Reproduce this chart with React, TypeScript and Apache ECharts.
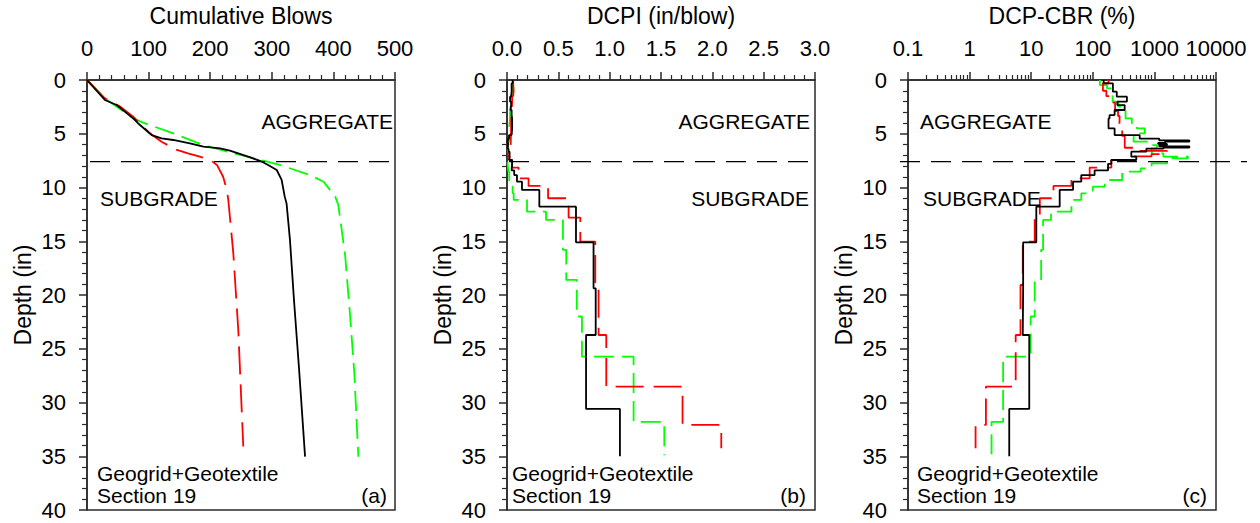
import React, { useEffect, useRef } from "react";
import * as echarts from "echarts";

const FONT = '"Liberation Sans", Arial, Helvetica, sans-serif';

// ---------- Panel (a): cumulative blows vs depth ----------
const blackBlows = [0, 29, 48, 75, 86, 105, 121, 140, 167, 189, 216, 232, 265, 284, 294, 308, 316, 321, 324, 329.5, 336, 344, 354];
const blackBlowsDepth = [0, 1.86, 2.33, 3.57, 4.19, 5.12, 5.43, 5.58, 5.89, 6.2, 6.36, 6.57, 7.19, 7.6, 7.9, 8.37, 9.3, 10.85, 11.5, 14.88, 20.47, 26.67, 35.04];
const redBlows = [0, 29, 54, 75, 102, 121, 146, 164, 183, 200, 211, 221, 227, 229.4, 237.5, 245.6, 253.7];
const redBlowsDepth = [0, 1.7, 2.48, 3.41, 4.96, 5.74, 6.51, 6.82, 7.13, 7.44, 7.9, 9.0, 10.23, 11.16, 16.1, 23.26, 34.1];
const greenBlows = [0, 29, 75, 91, 140, 189, 237.5, 286, 313, 362, 384, 403, 408, 419, 427, 434, 440.5];
const greenBlowsDepth = [0, 1.7, 3.57, 3.97, 4.96, 6.05, 6.82, 7.5, 7.9, 8.84, 9.46, 10.85, 11.63, 16.28, 21.86, 27.3, 35.04];

// ---------- Panels (b) and (c): layer boundaries (in) and layer values ----------
const blackBounds = [0, 0.31, 1.09, 1.55, 2.02, 2.33, 2.79, 3.26, 3.57, 4.5, 5.12, 5.46, 5.62, 5.72, 5.85, 5.95, 6.05, 6.18, 6.28, 6.39, 6.67, 7.13, 7.44, 7.8, 8.4, 8.84, 9.46, 10.23, 11.78, 15.1, 19.38, 23.72, 30.6, 35.0];
const blackDCPI = [0.055, 0.045, 0.04, 0.03, 0.04, 0.035, 0.045, 0.05, 0.05, 0.045, 0.02, 0.01, 0.004, 0.008, 0.012, 0.008, 0.01, 0.004, 0.008, 0.015, 0.025, 0.02, 0.05, 0.045, 0.07, 0.097, 0.146, 0.315, 0.672, 0.843, 0.864, 0.77, 1.1];
const blackCBR = [150, 212, 245, 358, 250, 329, 226, 187, 180, 226, 577, 1200, 3700, 1500, 1150, 1600, 1200, 3700, 1400, 740, 422, 508, 200, 177, 107, 65, 47.8, 29, 12.1, 7.4, 7.3, 9.3, 4.4];

const redBounds = [0, 0.3, 1.0, 1.5, 2.1, 2.9, 3.35, 3.8, 4.75, 5.2, 6.3, 6.6, 6.9, 7.1, 7.45, 8.15, 9.15, 9.85, 11.0, 12.8, 15.04, 19.07, 23.72, 28.53, 32.09, 34.26];
const redDCPI = [0.06, 0.065, 0.06, 0.05, 0.045, 0.042, 0.04, 0.04, 0.038, 0.035, 0.02, 0.008, 0.012, 0.025, 0.05, 0.113, 0.21, 0.4, 0.6, 0.714, 0.86, 0.892, 0.967, 1.71, 2.087];
const redCBR = [180, 146, 166, 212, 230, 257, 272, 265, 300, 330, 560, 1600, 900, 460, 200, 89, 45, 23, 13.8, 11.4, 7.3, 6.7, 5.6, 1.84, 1.25];

const greenBounds = [0, 0.47, 0.78, 1.5, 2.02, 2.48, 2.79, 3.57, 4.03, 4.5, 4.96, 5.27, 5.74, 6.05, 6.36, 6.82, 7.13, 7.29, 7.75, 8.22, 8.53, 9.3, 9.92, 10.54, 11.16, 12.25, 13.02, 15.8, 18.6, 22.0, 25.74, 31.8, 34.9];
const greenDCPI = [0.06, 0.05, 0.045, 0.04, 0.035, 0.03, 0.03, 0.025, 0.02, 0.015, 0.02, 0.02, 0.012, 0.008, 0.01, 0.006, 0.003, 0.006, 0.01, 0.015, 0.022, 0.025, 0.055, 0.065, 0.195, 0.38, 0.545, 0.577, 0.68, 0.73, 1.233, 1.532];
const greenCBR = [130, 170, 200, 210, 260, 300, 340, 430, 520, 700, 560, 460, 800, 1100, 900, 1400, 3500, 1600, 900, 600, 300, 157, 100, 65, 45, 21, 15.6, 14.5, 11.4, 9.8, 3.5, 2.27];

// ---------- Axes ----------
const SEPARATOR_DEPTH = 7.6;
const depthLabels = [0, 5, 10, 15, 20, 25, 30, 35, 40];
const blowsRange = [0, 500];
const dcpiRange = [0, 3];
const cbrRange = [0.1, 10000];
const cbrDecades = [0.1, 1, 10, 100, 1000];
const cbrMinorMultipliers = [2, 3, 4, 5, 6, 7, 8, 9];

const panelTexts = [
  { layer1: "AGGREGATE", layer2: "SUBGRADE", tag: "(a)" },
  { layer1: "AGGREGATE", layer2: "SUBGRADE", tag: "(b)" },
  { layer1: "AGGREGATE", layer2: "SUBGRADE", tag: "(c)" },
];
const sectionLine1 = "Geogrid+Geotextile";
const sectionLine2 = "Section 19";

const GRIDS = [
  { left: 87, top: 80, width: 308, height: 430 },
  { left: 507, top: 80, width: 308, height: 430 },
  { left: 908, top: 80, width: 308, height: 430 },
];

const pairs = (xs: number[], ys: number[]) => xs.map((x, i) => [x, ys[i]]);
const steps = (bounds: number[], vals: number[]) => {
  const pts: number[][] = [];
  vals.forEach((v, i) => {
    pts.push([v, bounds[i]]);
    pts.push([v, bounds[i + 1]]);
  });
  return pts;
};

const AX = "#2a2a2a";
const TICK_FONT = 22;
const NAME_FONT = 23;
const lineStyles = {
  black: { color: "#000000", width: 1.8, type: "solid" },
  red: { color: "#ff0000", width: 1.8, type: [28, 10] },
  green: { color: "#00ff00", width: 1.8, type: [20, 8] },
};

function yAxisFor(gridIndex: number) {
  return {
    type: "value",
    gridIndex,
    inverse: true,
    min: depthLabels[0],
    max: depthLabels[depthLabels.length - 1],
    interval: depthLabels[1] - depthLabels[0],
    name: "Depth (in)",
    nameLocation: "middle",
    nameGap: 53,
    nameTextStyle: { fontFamily: FONT, fontSize: NAME_FONT, color: "#000" },
    axisLine: { show: true, onZero: false, lineStyle: { color: AX, width: 1.5 } },
    axisTick: { show: true, length: 8, lineStyle: { color: AX, width: 1.5 } },
    minorTick: { show: true, splitNumber: 5, length: 5, lineStyle: { color: AX, width: 1.2 } },
    axisLabel: { fontFamily: FONT, fontSize: TICK_FONT, color: "#000", margin: 21 },
    splitLine: { show: false },
    minorSplitLine: { show: false },
  };
}

function xAxisBase(gridIndex: number, name: string) {
  return {
    gridIndex,
    position: "top",
    name,
    nameLocation: "middle",
    nameGap: 53,
    nameTextStyle: { fontFamily: FONT, fontSize: NAME_FONT, color: "#000" },
    axisLine: { show: true, onZero: false, lineStyle: { color: AX, width: 1.5 } },
    axisTick: { show: true, length: 8, lineStyle: { color: AX, width: 1.5 } },
    axisLabel: { fontFamily: FONT, fontSize: TICK_FONT, color: "#000", margin: 21 },
    splitLine: { show: false },
    minorSplitLine: { show: false },
  };
}

const fmtNum = (v: number) => String(Number(v.toPrecision(8)));

export default function App() {
  const ref = useRef<HTMLDivElement>(null);

  useEffect(() => {
    if (!ref.current) return;
    const chart = echarts.init(ref.current, null, { renderer: "svg" });

    const cbrMinor = cbrDecades.flatMap((d) => cbrMinorMultipliers.map((m) => Number((m * d).toPrecision(6))));

    const mk = (name: string, style: any, data: number[][], xi: number, yi: number) => ({
      type: "line",
      name,
      xAxisIndex: xi,
      yAxisIndex: yi,
      data,
      showSymbol: false,
      symbol: "none",
      smooth: false,
      lineStyle: style,
      itemStyle: { color: style.color },
      silent: true,
    });

    const option: any = {
      animation: false,
      backgroundColor: "#ffffff",
      grid: GRIDS.map((g) => ({
        ...g,
        show: true,
        borderColor: AX,
        borderWidth: 1.5,
        backgroundColor: "transparent",
        containLabel: false,
        outerBoundsMode: "none",
      })),
      xAxis: [
        {
          ...xAxisBase(0, "Cumulative Blows"),
          type: "value",
          min: blowsRange[0],
          max: blowsRange[1],
          interval: 100,
          minorTick: { show: true, splitNumber: 5, length: 5, lineStyle: { color: AX, width: 1.2 } },
        },
        {
          ...xAxisBase(1, "DCPI (in/blow)"),
          type: "value",
          min: dcpiRange[0],
          max: dcpiRange[1],
          interval: 0.5,
          minorTick: { show: true, splitNumber: 5, length: 5, lineStyle: { color: AX, width: 1.2 } },
          axisLabel: { fontFamily: FONT, fontSize: TICK_FONT, color: "#000", margin: 21, formatter: (v: number) => v.toFixed(1) },
        },
        {
          ...xAxisBase(2, "DCP-CBR (%)"),
          type: "log",
          logBase: 10,
          min: cbrRange[0],
          max: cbrRange[1],
          axisLabel: { fontFamily: FONT, fontSize: TICK_FONT, color: "#000", margin: 21, formatter: (v: number) => fmtNum(v) },
        },
        {
          type: "log",
          gridIndex: 2,
          position: "top",
          logBase: 10,
          min: cbrRange[0],
          max: cbrRange[1],
          axisLine: { show: false },
          axisLabel: { show: false },
          splitLine: { show: false },
          axisTick: { show: true, length: 5, customValues: cbrMinor, lineStyle: { color: AX, width: 1.2 } },
        },
      ],
      yAxis: [yAxisFor(0), yAxisFor(1), yAxisFor(2)],
      series: [
        mk("green", lineStyles.green, pairs(greenBlows, greenBlowsDepth), 0, 0),
        mk("red", lineStyles.red, pairs(redBlows, redBlowsDepth), 0, 0),
        mk("black", lineStyles.black, pairs(blackBlows, blackBlowsDepth), 0, 0),
        mk("green", lineStyles.green, steps(greenBounds, greenDCPI), 1, 1),
        mk("red", lineStyles.red, steps(redBounds, redDCPI), 1, 1),
        mk("black", lineStyles.black, steps(blackBounds, blackDCPI), 1, 1),
        mk("green", lineStyles.green, steps(greenBounds, greenCBR), 2, 2),
        mk("red", lineStyles.red, steps(redBounds, redCBR), 2, 2),
        mk("black", lineStyles.black, steps(blackBounds, blackCBR), 2, 2),
      ],
    };

    chart.setOption(option);

    // Separator (layer interface) lines and annotation texts
    const sepX = [
      [90, 398],
      [509, 817],
      [900, 1247],
    ];
    const graphics: any[] = [];
    const font = `21px ${FONT}`;
    GRIDS.forEach((g, i) => {
      const y = chart.convertToPixel({ yAxisIndex: i } as any, SEPARATOR_DEPTH) as number;
      graphics.push({
        type: "line",
        silent: true,
        z: 50,
        shape: { x1: sepX[i][0], y1: y, x2: sepX[i][1], y2: y },
        style: { stroke: "#000", lineWidth: 1.2, lineDash: [20, 11] },
      });
    });
    const txt = (text: string, x: number, y: number, align: string) => ({
      type: "text",
      silent: true,
      z: 60,
      x,
      y,
      style: { text, fill: "#000", font, textAlign: align, textVerticalAlign: "middle" },
    });
    // panel (a)
    graphics.push(txt(panelTexts[0].layer1, 393, 121, "right"));
    graphics.push(txt(panelTexts[0].layer2, 100, 198, "left"));
    graphics.push(txt(sectionLine1, 97, 473, "left"));
    graphics.push(txt(sectionLine2, 97, 495, "left"));
    graphics.push(txt(panelTexts[0].tag, 387, 495, "right"));
    // panel (b)
    graphics.push(txt(panelTexts[1].layer1, 810, 121, "right"));
    graphics.push(txt(panelTexts[1].layer2, 809, 198, "right"));
    graphics.push(txt(sectionLine1, 512, 473, "left"));
    graphics.push(txt(sectionLine2, 512, 495, "left"));
    graphics.push(txt(panelTexts[1].tag, 806, 495, "right"));
    // panel (c)
    graphics.push(txt(panelTexts[2].layer1, 920, 121, "left"));
    graphics.push(txt(panelTexts[2].layer2, 923, 198, "left"));
    graphics.push(txt(sectionLine1, 917, 473, "left"));
    graphics.push(txt(sectionLine2, 917, 495, "left"));
    graphics.push(txt(panelTexts[2].tag, 1207, 495, "right"));

    chart.setOption({ graphic: graphics });

    return () => chart.dispose();
  }, []);

  return (
    <div
      ref={ref}
      style={{ position: "absolute", left: 0, top: 0, width: 1260, height: 523, background: "#fff" }}
    />
  );
}
